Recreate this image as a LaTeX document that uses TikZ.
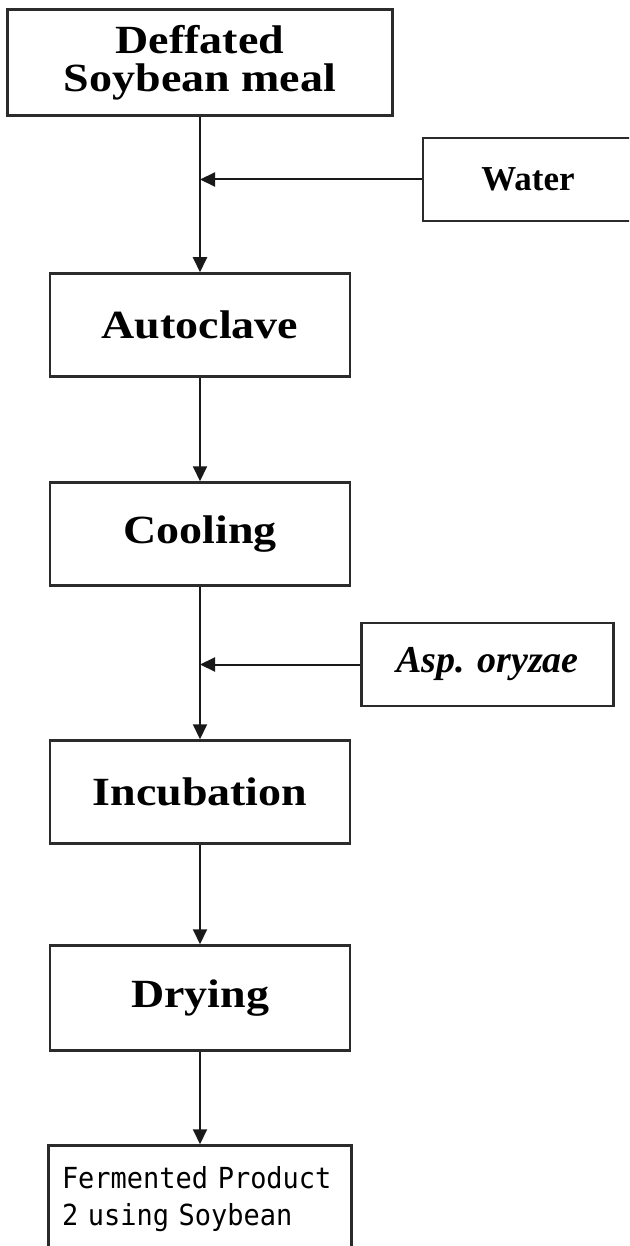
\documentclass[tikz,border=0pt]{standalone}
\usepackage{fontspec}
\usepackage{tikz}
\usetikzlibrary{arrows.meta}
\usetikzlibrary{positioning}
\newfontfamily\stepfont[FakeStretch=1.15]{Liberation Serif}
\newfontfamily\addfont{Liberation Serif}
\newfontfamily\prodfont[FakeStretch=0.93,WordSpace=1.6]{DejaVu Sans Mono}
\definecolor{boxline}{HTML}{2B2B2B}
\tikzset{
    stepbox/.style={draw=boxline, line width=2.5pt, minimum width=300pt, minimum height=103pt,
        inner sep=0pt, align=center, font=\stepfont\bfseries\fontsize{40}{38}\selectfont},
    addbox/.style={draw=boxline, line width=2.5pt, minimum height=83pt, inner sep=0pt,
        anchor=north west, font=\addfont\bfseries\fontsize{35}{40}\selectfont},
    flow/.style={line width=2pt, draw=black!90, -{Triangle[length=15pt,width=14pt]}}
}

\begin{document}
\begin{tikzpicture}[x=1pt,y=-1pt]
    \useasboundingbox (0,0) rectangle (629,1246);
    \clip (0,0) rectangle (629,1246);
    \node[stepbox, minimum width=385pt, minimum height=106pt] (meal) at (200,62.5) {Deffated\\Soybean meal};
    \node[stepbox, below=155.5pt of meal] (autoclave) {Autoclave};
    \node[stepbox, below=103.5pt of autoclave] (cooling) {Cooling};
    \node[stepbox, below=152.5pt of cooling] (incubation) {Incubation};
    \node[stepbox, below=99.5pt of incubation, minimum height=105pt] (drying) {Drying};
    \node[draw=boxline, line width=2.5pt, minimum height=108pt, below=92.5pt of drying,
        align=left, inner xsep=13.5pt, text width=276pt,
        font=\prodfont\fontsize{29}{37}\selectfont] (product) {Fermented Product\\2 using Soybean};
    \node[addbox, minimum width=210pt, below right=20pt and 28pt of meal.south east] (water) {Water};
    \node[addbox, minimum width=252pt, below right=35pt and 9pt of cooling.south east,
        font=\addfont\bfseries\itshape\fontsize{38}{40}\selectfont] (asp) {Asp. oryzae};
    \draw[flow] (meal) -- (autoclave);
    \draw[flow] (water) -- (water -| meal);
    \draw[flow] (autoclave) -- (cooling);
    \draw[flow] (cooling) -- (incubation);
    \draw[flow] (asp) -- (asp -| cooling);
    \draw[flow] (incubation) -- (drying);
    \draw[flow] (drying) -- (product);
\end{tikzpicture}
\end{document}
